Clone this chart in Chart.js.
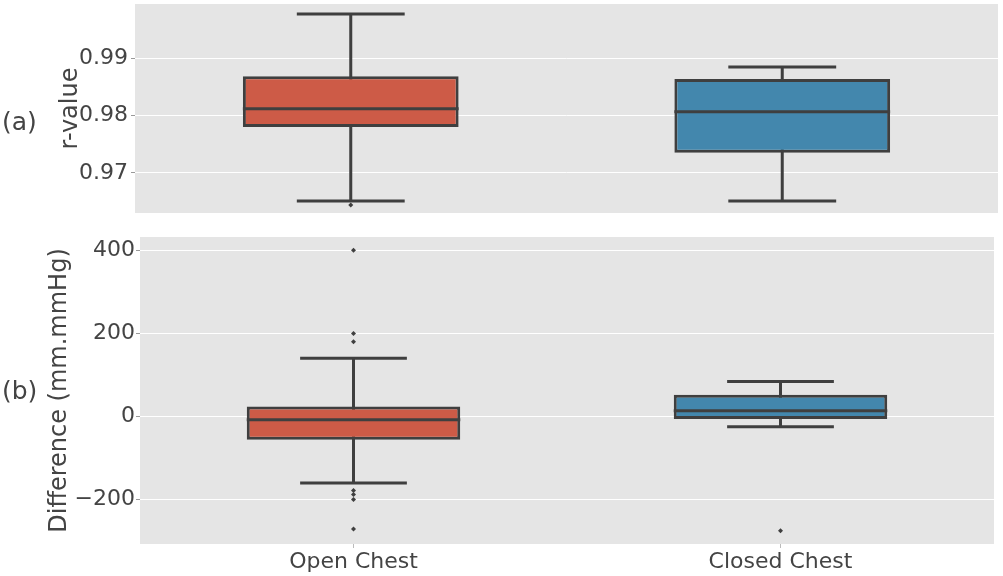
<!DOCTYPE html>
<html>
<head>
<meta charset="utf-8">
<script src="https://cdn.jsdelivr.net/npm/chart.js@4.4.1/dist/chart.umd.min.js"></script>
<style>
  html, body { margin: 0; padding: 0; background: #fff; }
  #wrap { position: relative; width: 1003px; height: 576px; }
  #top { position: absolute; left: 0; top: 0; width: 1003px; height: 222px; }
  #bottom { position: absolute; left: 0; top: 222px; width: 1003px; height: 354px; }
</style>
</head>
<body>
<div id="wrap">
  <div id="top"><canvas id="rChart"></canvas></div>
  <div id="bottom"><canvas id="diffChart"></canvas></div>
</div>
<script>
// categories
const categories = ['Open Chest', 'Closed Chest'];

// (a) r-value box stats
const rMin = [0.9651, 0.9651];
const rQ1 = [0.9780, 0.9735];
const rMedian = [0.9812, 0.9807];
const rQ3 = [0.9869, 0.9864];
const rMax = [0.9978, 0.9885];
const rOutliers = [[0.9644], []];
const rTicks = [0.97, 0.98, 0.99];

// (b) difference box stats (mm.mmHg)
const dMin = [-160, -25];
const dQ1 = [-56, -6];
const dMedian = [-8, 14];
const dQ3 = [24, 52];
const dMax = [140, 84];
const dOutliers = [[400, 200, 180, -178, -188, -200, -271], [-275]];
const dTicks = [-200, 0, 200, 400];

const boxColors = ['#cd5b47', '#4387ad'];
const lineColor = '#3f3f3f';
const textColor = '#444444';

Chart.defaults.font.family = "'DejaVu Sans', sans-serif";
Chart.defaults.color = textColor;

// grey panel background
const panelBg = {
    id: 'panelBg',
    beforeDraw(chart) {
        const { ctx, chartArea: a } = chart;
        ctx.save();
        ctx.fillStyle = '#e5e5e5';
        ctx.fillRect(a.left, a.top, a.right - a.left, a.bottom - a.top);
        ctx.restore();
    }
};

// whiskers under the boxes, medians on top
const boxParts = {
    id: 'boxParts',
    beforeDatasetsDraw(chart, args, opts) {
        const { ctx, scales: { x, y } } = chart;
        const meta = chart.getDatasetMeta(0);
        ctx.save();
        ctx.strokeStyle = lineColor;
        ctx.lineWidth = 3;
        meta.data.forEach((bar, i) => {
            const cx = x.getPixelForValue(i);
            const half = bar.width / 4;
            const top = y.getPixelForValue(opts.max[i]);
            const bot = y.getPixelForValue(opts.min[i]);
            ctx.beginPath();
            ctx.moveTo(cx, top);
            ctx.lineTo(cx, bot);
            ctx.moveTo(cx - half, top);
            ctx.lineTo(cx + half, top);
            ctx.moveTo(cx - half, bot);
            ctx.lineTo(cx + half, bot);
            ctx.stroke();
        });
        ctx.restore();
    },
    afterDatasetsDraw(chart, args, opts) {
        const { ctx, scales: { x, y } } = chart;
        const meta = chart.getDatasetMeta(0);
        ctx.save();
        ctx.strokeStyle = lineColor;
        ctx.lineWidth = 3;
        meta.data.forEach((bar, i) => {
            const cx = x.getPixelForValue(i);
            const half = bar.width / 2;
            const my = y.getPixelForValue(opts.median[i]);
            ctx.beginPath();
            ctx.moveTo(cx - half, my);
            ctx.lineTo(cx + half, my);
            ctx.stroke();
        });
        // panel letter
        ctx.fillStyle = textColor;
        ctx.font = "25px 'DejaVu Sans'";
        ctx.textBaseline = 'middle';
        ctx.textAlign = 'left';
        ctx.fillText(opts.letter, 2, opts.letterY);
        ctx.restore();
    }
};

const outlierPoints = (outliers) => {
    const pts = [];
    outliers.forEach((list, i) => {
        list.forEach(v => pts.push({ x: categories[i], y: v }));
    });
    return pts;
};

const makeChart = (canvasId, cfg) => {
    return new Chart(document.getElementById(canvasId), {
        type: 'bar',
        data: {
            labels: categories,
            datasets: [
                {
                    data: cfg.q1.map((v, i) => [v, cfg.q3[i]]),
                    backgroundColor: boxColors,
                    borderColor: lineColor,
                    borderWidth: 3,
                    borderSkipped: false,
                    categoryPercentage: 1,
                    barPercentage: 0.5
                },
                {
                    type: 'line',
                    data: outlierPoints(cfg.outliers),
                    showLine: false,
                    pointStyle: 'rectRot',
                    pointRadius: 2.5,
                    pointBackgroundColor: lineColor,
                    pointBorderColor: lineColor,
                    pointBorderWidth: 0
                }
            ]
        },
        options: {
            responsive: true,
            maintainAspectRatio: false,
            animation: false,
            layout: { padding: cfg.padding },
            plugins: {
                legend: { display: false },
                tooltip: { enabled: false },
                boxParts: {
                    min: cfg.min, max: cfg.max, median: cfg.median,
                    letter: cfg.letter, letterY: cfg.letterY
                }
            },
            scales: {
                x: {
                    display: cfg.showX,
                    grid: { offset: false, drawOnChartArea: false, tickLength: 4, tickColor: '#bbbbbb' },
                    border: { display: false },
                    ticks: { font: { size: 22 }, padding: 1, color: textColor },
                    afterFit(scale) {
                        scale.height = cfg.showX ? 32 : 0;
                        scale.paddingLeft = 0;
                        scale.paddingRight = 0;
                    }
                },
                y: {
                    min: cfg.yMin,
                    max: cfg.yMax,
                    afterBuildTicks(scale) { scale.ticks = cfg.ticks.map(v => ({ value: v })); },
                    afterFit(scale) {
                        scale.width = cfg.axisWidth;
                        scale.paddingTop = 0;
                        scale.paddingBottom = 0;
                    },
                    grid: { color: '#ffffff', lineWidth: 1, tickLength: 4, tickColor: '#999999' },
                    border: { display: false },
                    ticks: {
                        font: { size: 22 },
                        padding: cfg.tickPad,
                        color: textColor,
                        callback: cfg.fmt
                    },
                    title: {
                        display: true,
                        text: cfg.title,
                        font: { size: 24 },
                        color: textColor,
                        padding: { top: cfg.titlePad, bottom: 0 }
                    }
                }
            }
        },
        plugins: [panelBg, boxParts]
    });
};

makeChart('rChart', {
    q1: rQ1, q3: rQ3, min: rMin, max: rMax, median: rMedian, outliers: rOutliers,
    yMin: 0.96298, yMax: 0.99953, ticks: rTicks,
    fmt: v => v.toFixed(2),
    title: 'r-value', titlePad: 56, axisWidth: 135, tickPad: 3,
    padding: { left: 0, right: 5, top: 4, bottom: 9 },
    showX: false, letter: '(a)', letterY: 123
});

makeChart('diffChart', {
    q1: dQ1, q3: dQ3, min: dMin, max: dMax, median: dMedian, outliers: dOutliers,
    yMin: -307, yMax: 432, ticks: dTicks,
    fmt: v => (v < 0 ? '\u2212' + Math.abs(v) : String(v)),
    title: 'Difference (mm.mmHg)', titlePad: 45, axisWidth: 140, tickPad: 1,
    padding: { left: 0, right: 9, top: 15, bottom: 0 },
    showX: true, letter: '(b)', letterY: 170
});
</script>
</body>
</html>
